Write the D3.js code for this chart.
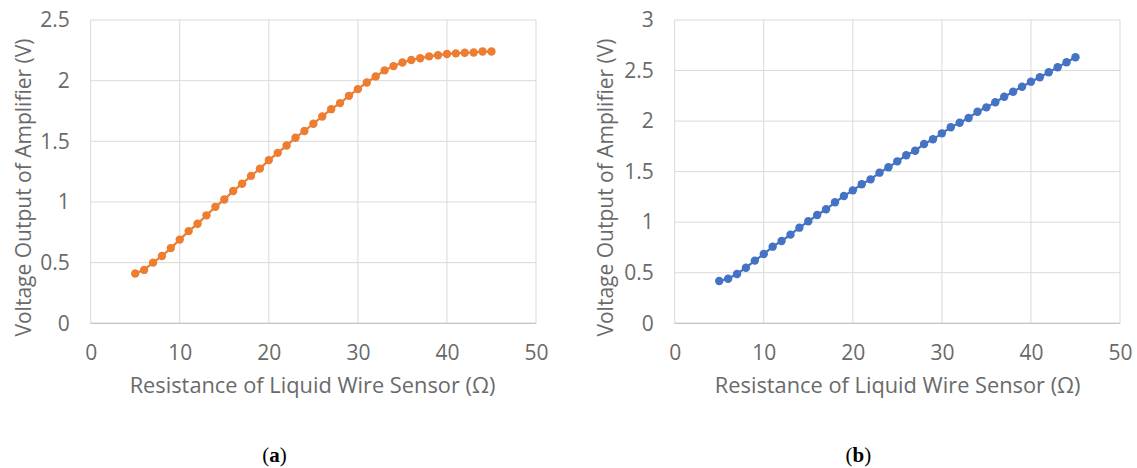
<!DOCTYPE html>
<html><head><meta charset="utf-8">
<script src="https://cdn.jsdelivr.net/npm/d3@7"></script>
<style>body{margin:0;background:#fff}svg{display:block}</style>
</head><body>
<svg id="chart" width="1137" height="468"></svg>
<script>
const resistance = [5,6,7,8,9,10,11,12,13,14,15,16,17,18,19,20,21,22,23,24,25,26,27,28,29,30,31,32,33,34,35,36,37,38,39,40,41,42,43,44,45];
const voltageA = [0.41,0.44,0.50,0.555,0.62,0.69,0.76,0.82,0.89,0.96,1.02,1.09,1.15,1.215,1.275,1.345,1.405,1.465,1.53,1.585,1.645,1.705,1.765,1.815,1.875,1.93,1.985,2.035,2.085,2.12,2.15,2.17,2.185,2.20,2.21,2.22,2.225,2.23,2.232,2.24,2.24];
const voltageB = [0.418,0.441,0.488,0.55,0.62,0.685,0.758,0.814,0.877,0.946,1.009,1.071,1.128,1.197,1.259,1.315,1.375,1.424,1.49,1.543,1.602,1.662,1.707,1.773,1.82,1.879,1.939,1.984,2.031,2.093,2.136,2.186,2.241,2.291,2.34,2.39,2.433,2.483,2.532,2.582,2.631];
const xTicks = [0,10,20,30,40,50];
const yTicksA = [0,0.5,1,1.5,2,2.5];
const yTicksB = [0,0.5,1,1.5,2,2.5,3];
const xTitle = "Resistance of Liquid Wire Sensor (Ω)";
const yTitle = "Voltage Output of Amplifier (V)";
const captions = ["a","b"];

const svg = d3.select("#chart");
const font = "'Open Sans', sans-serif";
const textColor = "#6a6a6a";

function panel(cfg){
  const g = svg.append("g");
  const x = d3.scaleLinear().domain([0,50]).range([cfg.left, cfg.right]);
  const y = d3.scaleLinear().domain([0, cfg.yMax]).range([323.3, 20]);
  g.selectAll(".hg").data(cfg.yTicks).join("line")
    .attr("x1", cfg.left).attr("x2", cfg.right)
    .attr("y1", d=>y(d)).attr("y2", d=>y(d))
    .attr("stroke", "#d9d9d9").attr("stroke-width", 1);
  g.selectAll(".vg").data(xTicks).join("line")
    .attr("x1", d=>x(d)).attr("x2", d=>x(d))
    .attr("y1", y(0)).attr("y2", y(cfg.yMax))
    .attr("stroke", "#d9d9d9").attr("stroke-width", 1);
  g.append("line").attr("x1", cfg.left).attr("x2", cfg.right)
    .attr("y1", y(0)).attr("y2", y(0)).attr("stroke", "#bfbfbf").attr("stroke-width", 1);
  const xa = g.append("g").attr("transform", `translate(0,${y(0)})`)
    .call(d3.axisBottom(x).tickValues(xTicks).tickSize(0).tickPadding(22).tickFormat(d3.format("d")));
  xa.select(".domain").remove();
  xa.selectAll("text").attr("font-family", font).attr("font-size", 21).attr("fill", textColor);
  const ya = g.append("g").attr("transform", `translate(${cfg.left},0)`)
    .call(d3.axisLeft(y).tickValues(cfg.yTicks).tickSize(0).tickPadding(21).tickFormat(d=>String(d)));
  ya.select(".domain").remove();
  ya.selectAll("text").attr("font-family", font).attr("font-size", 21).attr("fill", textColor);
  const pts = resistance.map((r,i)=>[r, cfg.values[i]]);
  g.append("path").datum(pts)
    .attr("d", d3.line().x(d=>x(d[0])).y(d=>y(d[1])))
    .attr("fill","none").attr("stroke", cfg.color).attr("stroke-width", 2.2);
  g.selectAll(".pt").data(pts).join("circle")
    .attr("cx", d=>x(d[0])).attr("cy", d=>y(d[1])).attr("r", 4.2)
    .attr("fill", cfg.color);
  g.append("text").attr("x", cfg.xTitleX).attr("y", 393)
    .attr("text-anchor","middle").attr("font-family", font).attr("font-size", 21.8)
    .attr("fill", textColor).text(xTitle);
  g.append("text").attr("transform", `translate(${cfg.yTitleX},187.5) rotate(-90)`)
    .attr("text-anchor","middle").attr("dominant-baseline","central")
    .attr("font-family", font).attr("font-size", 21)
    .attr("fill", textColor).text(yTitle);
  const cap = g.append("text").attr("x", cfg.capX).attr("y", 461.5)
    .attr("text-anchor","middle").attr("font-family","'Liberation Serif', serif")
    .attr("font-size", 21).attr("fill","#000");
  cap.append("tspan").text("(");
  cap.append("tspan").attr("font-weight","bold").text(cfg.caption);
  cap.append("tspan").text(")");
}

panel({left:90.7, right:536, yMax:2.5, yTicks:yTicksA, values:voltageA, color:"#ED7D31", yTitleX:23, xTitleX:312.5, capX:274.5, caption:captions[0]});
panel({left:674.7, right:1120, yMax:3, yTicks:yTicksB, values:voltageB, color:"#4472C4", yTitleX:605, xTitleX:897.7, capX:858.3, caption:captions[1]});
</script>
</body></html>
